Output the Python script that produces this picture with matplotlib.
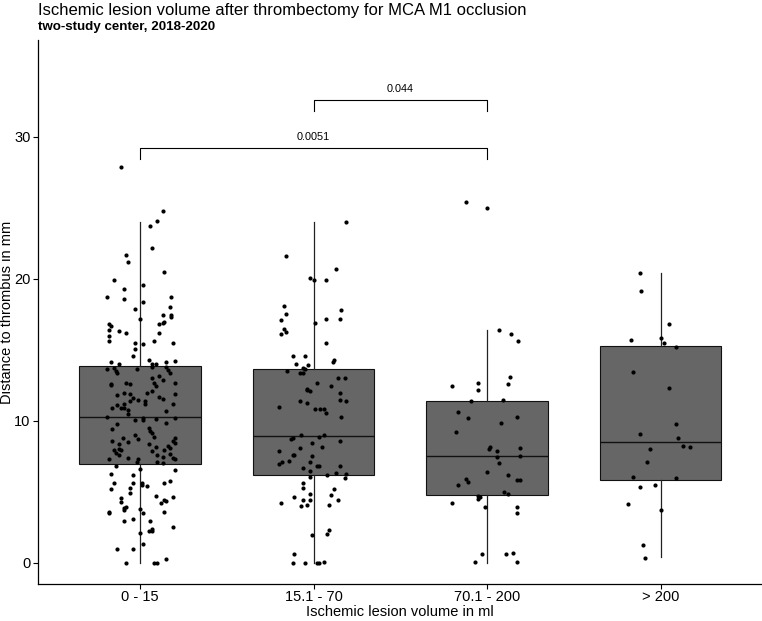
import matplotlib
matplotlib.use("Agg")
import matplotlib.pyplot as plt

plt.rcParams['font.family'] = ['Liberation Sans', 'DejaVu Sans']

# ---------------- data ----------------
categories = ["0 - 15", "15.1 - 70", "70.1 - 200", "> 200"]
q1 = [7.0, 6.18, 4.8, 5.87]
medians = [10.3, 8.97, 7.56, 8.52]
q3 = [13.9, 13.66, 11.4, 15.26]
whis_lo = [0.0, 0.0, 0.0, 0.45]
whis_hi = [24.0, 24.0, 16.4, 20.45]

# jittered points: (horizontal jitter offset, distance in mm)
g1_points = [(-0.11,27.9),(0.13,24.8),(0.10,24.1),(0.06,23.7),(0.07,22.2),(-0.08,21.7),(-0.07,21.2),(0.14,20.5),
 (-0.15,19.9),(0.02,19.6),(-0.09,19.3),(-0.19,18.75),(0.18,18.7),(-0.09,18.6),(0.02,18.4),(0.17,18.05),(-0.03,17.9),
 (0.13,17.5),(0.18,17.5),(0.18,17.35),(0.0,17.2),(0.14,17.0),(0.13,16.9),(-0.18,16.85),(-0.17,16.7),(0.11,16.8),
 (-0.18,16.4),(-0.12,16.35),(-0.08,16.2),(0.11,16.2),(-0.18,16.0),(-0.18,15.65),(0.08,15.65),(-0.03,15.5),(0.19,15.5),
 (0.02,15.4),(-0.03,15.1),(-0.04,14.6),(0.05,14.3),(-0.17,14.15),(-0.12,14.0),(0.15,14.15),(0.20,14.2),(0.07,14.0),
 (0.09,14.0),(-0.19,13.66),(-0.15,13.73),(-0.14,13.5),(-0.13,13.4),(-0.02,13.66),(0.07,13.8),(0.15,13.8),(0.16,13.6),
 (0.17,13.4),(0.11,13.2),(0.07,13.0),(0.13,12.9),(0.08,12.7),(0.09,12.5),(-0.08,12.7),(-0.06,12.6),(-0.17,12.6),
 (-0.17,12.55),(0.20,12.7),(0.04,12.0),(0.07,12.1),(-0.09,12.0),(-0.13,11.85),(-0.06,11.9),(0.20,11.9),(0.11,11.7),
 (-0.04,11.65),(0.13,11.55),(-0.01,11.5),(-0.06,11.4),(0.03,11.4),(-0.09,11.2),(0.19,11.2),(-0.13,11.1),(-0.11,10.95),
 (-0.16,10.9),(-0.09,10.9),(-0.07,10.8),(0.03,11.2),(0.15,10.7),(-0.07,10.5),(-0.19,10.3),(-0.03,10.1),(0.02,10.2),
 (0.02,10.1),(0.09,10.15),(0.20,10.2),(0.15,9.86),(-0.13,9.8),(-0.16,9.44),(0.05,9.5),(0.06,9.3),(0.07,9.15),
 (-0.03,9.04),(0.08,8.87),(-0.10,8.8),(-0.01,8.7),(0.20,8.8),(0.19,8.6),(-0.16,8.57),(-0.07,8.5),(-0.12,8.4),
 (0.20,8.43),(0.05,8.4),(0.16,8.24),(0.17,8.12),(0.09,8.17),(-0.12,8.03),(-0.11,7.96),(-0.15,7.98),(0.14,7.94),
 (0.07,7.87),(-0.14,7.77),(-0.12,7.63),(0.17,7.68),(0.10,7.6),(-0.07,7.42),(0.13,7.46),(0.19,7.42),(-0.18,7.3),
 (-0.01,7.32),(-0.02,7.13),(0.10,7.09),(0.13,7.06),(0.20,7.32),(-0.14,6.83),(0.0,6.62),(0.20,6.53),(-0.17,6.29),
 (-0.04,6.2),(0.17,5.8),(-0.15,5.66),(-0.04,5.66),(0.01,5.63),(0.14,5.6),(0.01,5.5),(0.04,5.45),(-0.06,5.28),
 (-0.17,5.19),(-0.06,4.9),(0.09,4.72),(0.19,4.63),(-0.11,4.58),(0.14,4.46),(0.15,4.4),(-0.11,4.27),(0.12,4.2),
 (-0.08,3.96),(-0.09,3.85),(-0.09,3.73),(0.0,3.8),(-0.18,3.61),(-0.18,3.54),(0.02,3.52),(0.14,3.61),(-0.04,3.12),
 (-0.09,2.98),(0.06,2.94),(0.19,2.51),(0.07,2.39),(0.05,2.27),(0.07,2.23),(0.0,2.09),(0.02,1.31),(-0.13,0.99),
 (-0.04,1.01),(0.15,0.3),(-0.08,0.0),(0.08,0.02),(0.10,0.0)]

g2_points = [(0.19,24.0),(-0.16,21.6),(0.13,20.7),(-0.02,20.1),(0.0,19.9),(0.07,19.95),(-0.17,18.1),(-0.16,17.56),
 (0.16,17.8),(-0.19,17.1),(0.07,17.2),(0.15,17.2),(0.01,16.9),(-0.17,16.45),(-0.19,16.1),(-0.16,16.25),(0.07,15.5),
 (-0.12,14.6),(-0.05,14.55),(0.12,14.27),(0.11,14.13),(-0.10,14.0),(-0.03,13.94),(-0.06,13.75),(-0.05,13.68),
 (-0.15,13.5),(-0.08,13.36),(-0.06,13.4),(0.14,13.03),(0.18,13.03),(0.02,12.7),(0.10,12.5),(-0.04,12.27),(-0.04,12.18),
 (-0.02,12.1),(0.15,12.0),(0.15,11.5),(0.19,11.4),(-0.08,11.4),(-0.04,11.3),(-0.20,11.0),(0.01,10.87),(0.04,10.87),
 (0.06,10.87),(0.07,10.54),(0.16,10.3),(-0.07,9.0),(0.06,9.0),(0.03,8.9),(-0.12,8.8),(-0.13,8.7),(-0.01,8.47),
 (0.15,8.6),(0.05,8.2),(-0.08,8.1),(-0.20,7.91),(-0.12,7.58),(-0.11,7.63),(-0.01,7.56),(-0.14,7.2),(-0.18,7.1),
 (-0.20,6.95),(-0.02,7.1),(0.02,6.85),(0.03,6.85),(0.15,6.85),(-0.06,6.7),(-0.02,6.48),(0.13,6.34),(0.19,6.29),
 (-0.02,6.08),(0.08,6.2),(0.18,6.0),(-0.06,5.61),(-0.06,5.28),(0.12,5.23),(-0.02,4.88),(0.10,4.79),(-0.11,4.63),
 (-0.06,4.46),(-0.02,4.41),(0.14,4.41),(-0.19,4.23),(-0.07,4.01),(-0.04,4.08),(0.09,4.08),(0.09,2.32),(-0.01,2.0),
 (0.08,2.04),(-0.11,0.65),(-0.12,0.0),(-0.05,0.0),(0.02,0.0),(0.03,0.0),(0.06,0.05)]

g3_points = [(-0.12,25.4),(0.0,25.0),(0.07,16.4),(0.14,16.13),(0.18,15.63),(0.13,13.1),(-0.20,12.46),(-0.05,12.68),
 (0.12,12.63),(-0.05,12.2),(-0.09,11.39),(0.09,11.48),(-0.17,10.6),(-0.11,10.2),(0.17,10.3),(0.08,9.84),(-0.18,9.2),
 (0.02,8.2),(0.01,8.05),(0.06,7.91),(0.19,8.1),(0.06,7.46),(0.19,7.51),(0.07,7.04),(0.0,6.43),(0.12,6.17),
 (-0.12,5.94),(-0.11,5.7),(0.17,5.87),(0.19,5.87),(-0.17,5.47),(0.10,5.02),(0.12,4.86),(-0.05,4.72),(-0.04,4.63),
 (-0.05,4.53),(-0.20,4.23),(-0.01,3.94),(0.17,3.94),(0.17,3.54),(-0.03,0.65),(0.11,0.61),(0.15,0.7),(-0.07,0.05),
 (0.17,0.05)]

g4_points = [(-0.12,20.45),(-0.11,19.18),(0.05,16.85),(-0.17,15.7),(0.0,15.87),(0.02,15.52),(0.09,15.24),(-0.16,13.45),
 (0.05,12.35),(0.09,9.81),(-0.12,9.06),(0.10,8.82),(-0.06,8.05),(0.13,8.24),(0.17,8.15),(-0.08,7.11),(-0.16,6.03),
 (0.09,5.99),(-0.12,5.38),(-0.03,5.52),(-0.19,4.18),(0.0,3.71),(-0.10,1.29),(-0.09,0.37)]

groups_points = [g1_points, g2_points, g3_points, g4_points]

# significance comparisons (group index a, group index b, label, bracket height)
comp_a = [2, 1]
comp_b = [3, 3]
comp_labels = ["0.044", "0.0051"]
comp_heights = [32.6, 29.2]

title = "Ischemic lesion volume after thrombectomy for MCA M1 occlusion"
subtitle = "two-study center, 2018-2020"
xlabel = "Ischemic lesion volume in ml"
ylabel = "Distance to thrombus in mm"

# ---------------- plot ----------------
W, H = 762, 621
fig = plt.figure(figsize=(W / 100, H / 100), dpi=100)
ax_l, ax_r, ax_t, ax_b = 38, 762, 40, 584
ax = fig.add_axes([ax_l / W, 1 - ax_b / H, (ax_r - ax_l) / W, (ax_b - ax_t) / H])

positions = list(range(1, len(categories) + 1))
stats = []
for i in range(len(categories)):
    stats.append(dict(med=medians[i], q1=q1[i], q3=q3[i], whislo=whis_lo[i], whishi=whis_hi[i], fliers=[]))

ax.bxp(stats, positions=positions, widths=0.7, patch_artist=True, showcaps=False, showfliers=False,
       boxprops=dict(facecolor="#666666", edgecolor="#111111", linewidth=0.8),
       medianprops=dict(color="#111111", linewidth=1.0),
       whiskerprops=dict(color="#222222", linewidth=0.9), zorder=2)

for pos, pts in zip(positions, groups_points):
    xs = [pos + d for d, v in pts]
    ys = [v for d, v in pts]
    ax.scatter(xs, ys, s=9, color="black", linewidths=0, zorder=3)

tick_drop = 0.75
for a, b, lab, h in zip(comp_a, comp_b, comp_labels, comp_heights):
    ax.plot([a, a, b, b], [h - tick_drop, h, h, h - tick_drop], color="black", lw=0.8, zorder=4)
    ax.text((a + b) / 2, h + 0.45, lab, ha="center", va="bottom", fontsize=7.8)

ax.set_xlim(0.412, 4.585)
ax.set_ylim((563 - ax_b) / 14.2, (563 - ax_t) / 14.2)
ax.set_xticks(positions)
ax.set_xticklabels(categories)
ax.set_yticks([0, 10, 20, 30])
ax.tick_params(axis="both", labelsize=10.5, colors="black", length=3.5, width=0.8)
ax.tick_params(axis="x", pad=1)
ax.tick_params(axis="y", pad=2)
for s in ["top", "right"]:
    ax.spines[s].set_visible(False)
for s in ["left", "bottom"]:
    ax.spines[s].set_linewidth(0.9)

fig.text((ax_l + ax_r) / 2 / W, 1 - 612 / H, xlabel, ha="center", va="center", fontsize=10.5)
fig.text(7 / W, 1 - (ax_t + ax_b) / 2 / H, ylabel, ha="center", va="center", rotation=90, fontsize=10.5)

fig.text(ax_l / W, 1 - 3 / H, title, ha="left", va="top", fontsize=12)
fig.text(ax_l / W, 1 - 21 / H, subtitle, ha="left", va="top", fontsize=9.6, fontweight="bold")

fig.savefig("out.png", dpi=100)
